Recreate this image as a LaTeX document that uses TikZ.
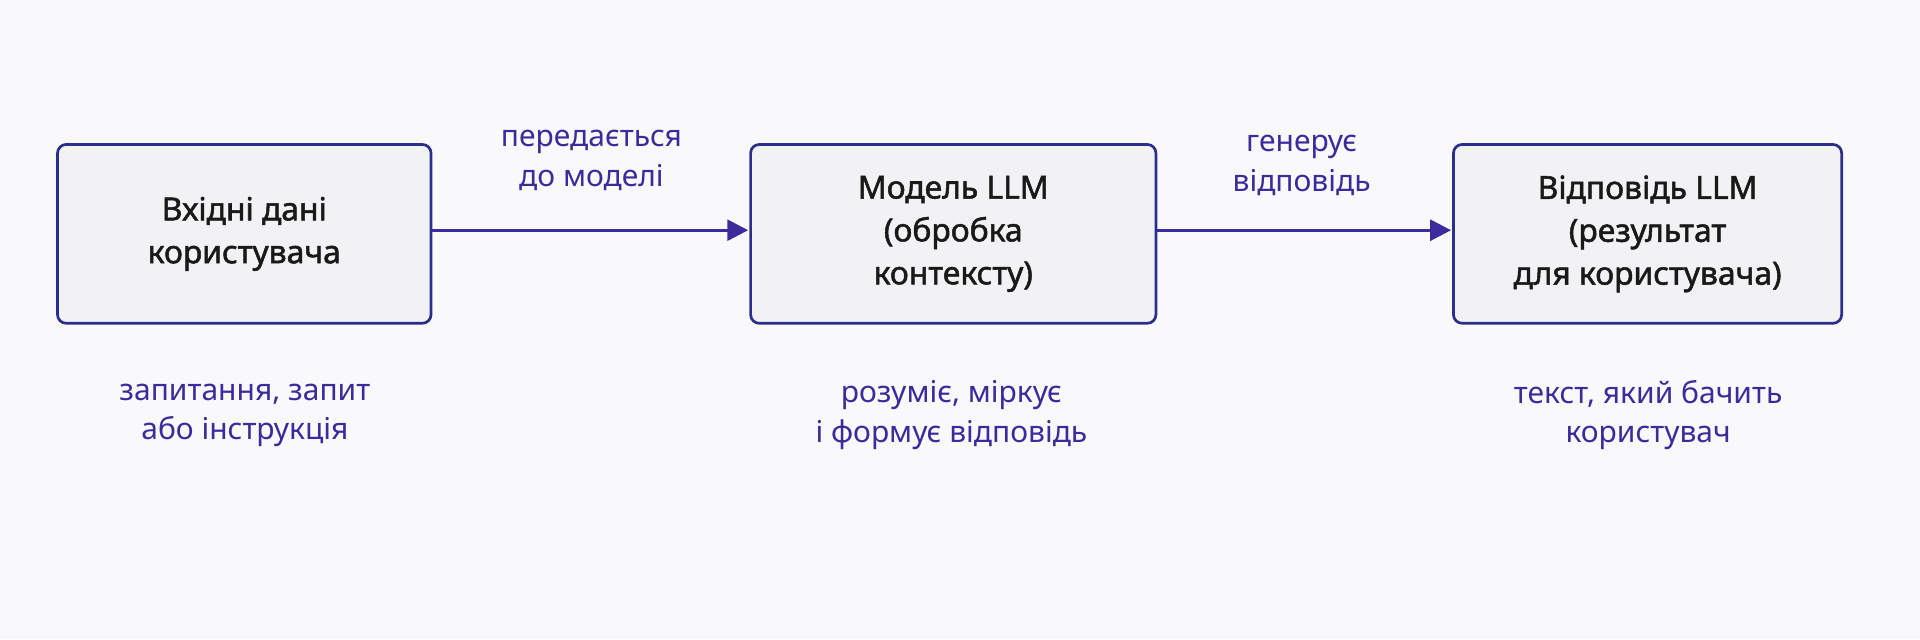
\documentclass[tikz,border=0pt]{standalone}
\usepackage{fontspec}
\setmainfont{Noto Sans}
\newfontfamily\boxfont[FakeBold=1.6]{Noto Sans}
\usetikzlibrary{arrows.meta}
\definecolor{bg}{HTML}{F9F9FB}
\definecolor{boxfill}{HTML}{F2F2F5}
\definecolor{boxdraw}{HTML}{2B2F8C}
\definecolor{arr}{HTML}{3A2C9C}
\definecolor{lab}{HTML}{3A2C9C}
\begin{document}
\begin{tikzpicture}[x=1pt,y=1pt,
  box/.style={draw=boxdraw,fill=boxfill,line width=2.2pt,rounded corners=7pt,align=center,
    font=\boxfont\fontsize{26}{35}\selectfont,text=black!90,inner sep=0pt},
  lbl/.style={align=center,text=lab,font=\fontsize{24.5}{32}\selectfont},
  conn/.style={draw=arr,line width=2.6pt,-{Triangle[length=17pt,width=17pt]}}]
\fill[bg] (0,0) rectangle (1568,-522);
\useasboundingbox (0,0) rectangle (1568,-522);
\node[box,minimum width=305pt,minimum height=146pt] (a) at (199.5,-191) {Вхідні дані\\користувача};
\node[box,minimum width=331pt,minimum height=146pt] (b) at (778.5,-191) {Модель LLM\\(обробка\\контексту)};
\node[box,minimum width=317pt,minimum height=146pt] (c) at (1345.5,-191) {Відповідь LLM\\(результат\\для користувача)};
\coordinate (a1) at (352,-188);
\coordinate (b0) at (611,-188);
\coordinate (b1) at (944,-188);
\coordinate (c0) at (1185,-188);
\draw[conn] (a1) -- (b0);
\draw[conn] (b1) -- (c0);
\node[lbl] (l1) at (483,-131) {передається\\до моделі};
\node[lbl] (l2) at (1063,-135) {генерує\\відповідь};
\node[lbl] (d1) at (200,-339) {запитання, запит\\або інструкція};
\node[lbl] (d2) at (777,-339) {розуміє, міркує\\і формує відповідь};
\node[lbl] (d3) at (1346,-339) {текст, який бачить\\користувач};
\end{tikzpicture}
\end{document}
